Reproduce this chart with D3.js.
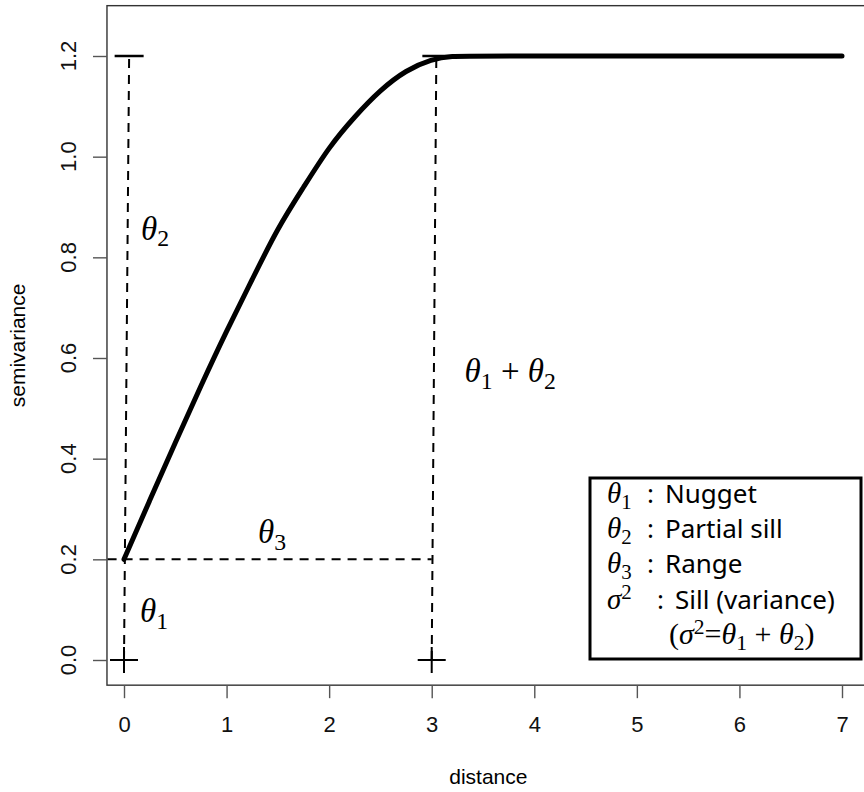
<!DOCTYPE html>
<html>
<head>
<meta charset="utf-8">
<script src="https://cdn.jsdelivr.net/npm/d3@7"></script>
<style>
  body { margin: 0; background: #fff; }
  svg text { font-family: "Liberation Sans", Arial, sans-serif; }
</style>
</head>
<body>
<script>
// semivariogram curve, values
const distance     = [0, 0.25, 0.5, 0.75, 1.0, 1.25, 1.5, 1.75, 2.0, 2.25, 2.5, 2.75, 3.0, 3.2, 3.4, 7];
const semivariance = [0.2, 0.317, 0.432, 0.545, 0.654, 0.756, 0.859, 0.939, 1.02, 1.08, 1.133, 1.172, 1.194, 1.2, 1.2, 1.2];

const xTicks = [0, 1, 2, 3, 4, 5, 6, 7];
const yTicks = [0, 0.2, 0.4, 0.6, 0.8, 1.0, 1.2];

// plot limits (the box)
const xLim = [-0.166, 7.27];
const yLim = [-0.05, 1.3];

// dashed guide lines: [x1, y1, x2, y2]
const guides = [[0, 0, 0.05, 1.2], [3, 0, 3.045, 1.2], [-0.16, 0.2, 3, 0.2]];
// "+" points and "-" points
const plusPts = [[0, 0], [3, 0]];
const dashPts = [[0.05, 1.2], [3.05, 1.2]];

// math annotations: [x, y, parts]
const notes = [
  [0.166, 0.835, [['θ', 'i'], ['2', 'sub']]],
  [1.306, 0.2325, [['θ', 'i'], ['3', 'sub']]],
  [0.156, 0.0755, [['θ', 'i'], ['1', 'sub']]],
  [3.32, 0.552, [['θ', 'i'], ['1', 'sub'], [' + ', 'n'], ['θ', 'i'], ['2', 'sub']]]
];

const legendRows = [
  [[['θ', 'i'], ['1', 'sub']], ':', 'Nugget'],
  [[['θ', 'i'], ['2', 'sub']], ':', 'Partial sill'],
  [[['θ', 'i'], ['3', 'sub']], ':', 'Range'],
  [[['σ', 'i'], ['2', 'sup']], ':', 'Sill (variance)']
];
const legendLast = [['(', 'n'], ['σ', 'i'], ['2', 'sup'], ['=', 'n'], ['θ', 'i'], ['1', 'sub'],
                    [' + ', 'n'], ['θ', 'i'], ['2', 'sub'], [')', 'n']];

const width = 864, height = 792;

const x = d3.scaleLinear().domain([0, 7]).range([124, 842]);
const y = d3.scaleLinear().domain([0, 1.2]).range([660, 56]);

const svg = d3.select('body').append('svg')
  .attr('width', width)
  .attr('height', height);

// helper for math text with sub/superscripts
function mathText(sel, px, py, parts, size) {
  const t = sel.append('text')
    .attr('x', px).attr('y', py)
    .style('font-family', '"Liberation Serif", "DejaVu Serif", serif')
    .style('font-size', size + 'px')
    .attr('fill', '#000');
  let shift = 0;
  parts.forEach(function(p) {
    let target = 0, fs = size, fst = 'normal';
    if (p[1] === 'i') fst = 'italic';
    if (p[1] === 'sub') { target = size * 0.2; fs = size * 0.72; }
    if (p[1] === 'sup') { target = -size * 0.33; fs = size * 0.72; }
    t.append('tspan')
      .attr('dy', target - shift)
      .style('font-size', fs + 'px')
      .style('font-style', fst)
      .style('white-space', 'pre')
      .text(p[0]);
    shift = target;
  });
  return t;
}

// box
svg.append('rect')
  .attr('x', x(xLim[0]))
  .attr('y', y(yLim[1]))
  .attr('width', x(xLim[1]) - x(xLim[0]))
  .attr('height', y(yLim[0]) - y(yLim[1]))
  .attr('fill', 'none')
  .attr('stroke', '#333')
  .attr('stroke-width', 1.4);

// x axis
const xAxis = svg.append('g')
  .attr('transform', 'translate(0,' + y(yLim[0]) + ')')
  .call(d3.axisBottom(x).tickValues(xTicks).tickSize(13).tickPadding(18).tickFormat(d3.format('d')));
xAxis.select('.domain').remove();
xAxis.selectAll('line').attr('stroke', '#555').attr('stroke-width', 1.4);
xAxis.selectAll('text').attr('fill', '#111')
  .style('font-family', '"Liberation Sans", Arial, sans-serif').style('font-size', '22px');

// y axis
const yAxis = svg.append('g')
  .attr('transform', 'translate(' + x(xLim[0]) + ',0)')
  .call(d3.axisLeft(y).tickValues(yTicks).tickSize(14).tickFormat(''));
yAxis.select('.domain').remove();
yAxis.selectAll('line').attr('stroke', '#555').attr('stroke-width', 1.4);

svg.selectAll('.ylab')
  .data(yTicks)
  .enter()
  .append('text')
    .attr('class', 'ylab')
    .attr('transform', function(d) { return 'translate(76,' + y(d) + ') rotate(-90)'; })
    .attr('text-anchor', 'middle')
    .attr('fill', '#111')
    .style('font-size', '22px')
    .text(d3.format('.1f'));

// axis titles
svg.append('text')
  .attr('x', (x(xLim[0]) + x(xLim[1])) / 2)
  .attr('y', 784)
  .attr('text-anchor', 'middle')
  .style('font-size', '21px')
  .text('distance');

svg.append('text')
  .attr('transform', 'translate(25,' + (y(yLim[0]) + y(yLim[1])) / 2 + ') rotate(-90)')
  .attr('text-anchor', 'middle')
  .style('font-size', '21px')
  .text('semivariance');

// dashed guides
svg.selectAll('.guide')
  .data(guides)
  .enter()
  .append('line')
    .attr('class', 'guide')
    .attr('x1', function(d) { return x(d[0]); })
    .attr('y1', function(d) { return y(d[1]); })
    .attr('x2', function(d) { return x(d[2]); })
    .attr('y2', function(d) { return y(d[3]); })
    .attr('stroke', '#000')
    .attr('stroke-width', 2)
    .attr('stroke-dasharray', '9,7');

// curve
const line = d3.line()
  .x(function(d, i) { return x(distance[i]); })
  .y(function(d) { return y(d); })
  .curve(d3.curveBasis);

svg.append('path')
  .datum(semivariance)
  .attr('d', line)
  .attr('fill', 'none')
  .attr('stroke', '#000')
  .attr('stroke-width', 5)
  .attr('stroke-linejoin', 'round')
  .attr('stroke-linecap', 'round');

// "+" points
svg.selectAll('.plus')
  .data(plusPts)
  .enter()
  .append('path')
    .attr('class', 'plus')
    .attr('d', function(d) {
      const cx = x(d[0]), cy = y(d[1]);
      return 'M' + (cx - 14) + ',' + cy + 'H' + (cx + 14) + 'M' + cx + ',' + (cy - 13) + 'V' + (cy + 13);
    })
    .attr('stroke', '#000')
    .attr('stroke-width', 2);

// "-" points
svg.selectAll('.dash')
  .data(dashPts)
  .enter()
  .append('line')
    .attr('class', 'dash')
    .attr('x1', function(d) { return x(d[0]) - 14.5; })
    .attr('x2', function(d) { return x(d[0]) + 14.5; })
    .attr('y1', function(d) { return y(d[1]); })
    .attr('y2', function(d) { return y(d[1]); })
    .attr('stroke', '#000')
    .attr('stroke-width', 2.5);

// annotations
notes.forEach(function(n) {
  mathText(svg, x(n[0]), y(n[1]), n[2], 33);
});

// legend
const lg = svg.append('g');
lg.append('rect')
  .attr('x', 590).attr('y', 478)
  .attr('width', 271).attr('height', 181)
  .attr('fill', '#fff')
  .attr('stroke', '#000')
  .attr('stroke-width', 3);

const rowY = [503, 538, 573, 609, 644];
legendRows.forEach(function(r, i) {
  mathText(lg, 607, rowY[i], r[0], 29);
  const isSigma = i === 3;
  lg.append('text')
    .attr('x', isSigma ? 657 : 647).attr('y', rowY[i])
    .style('font-family', '"Noto Sans", sans-serif')
    .style('font-size', '26px')
    .text(r[1]);
  lg.append('text')
    .attr('x', isSigma ? 675 : 665).attr('y', rowY[i])
    .style('font-family', '"Noto Sans", sans-serif')
    .style('font-size', '26px')
    .text(r[2]);
});
mathText(lg, 669, rowY[4], legendLast, 30);
</script>
</body>
</html>
